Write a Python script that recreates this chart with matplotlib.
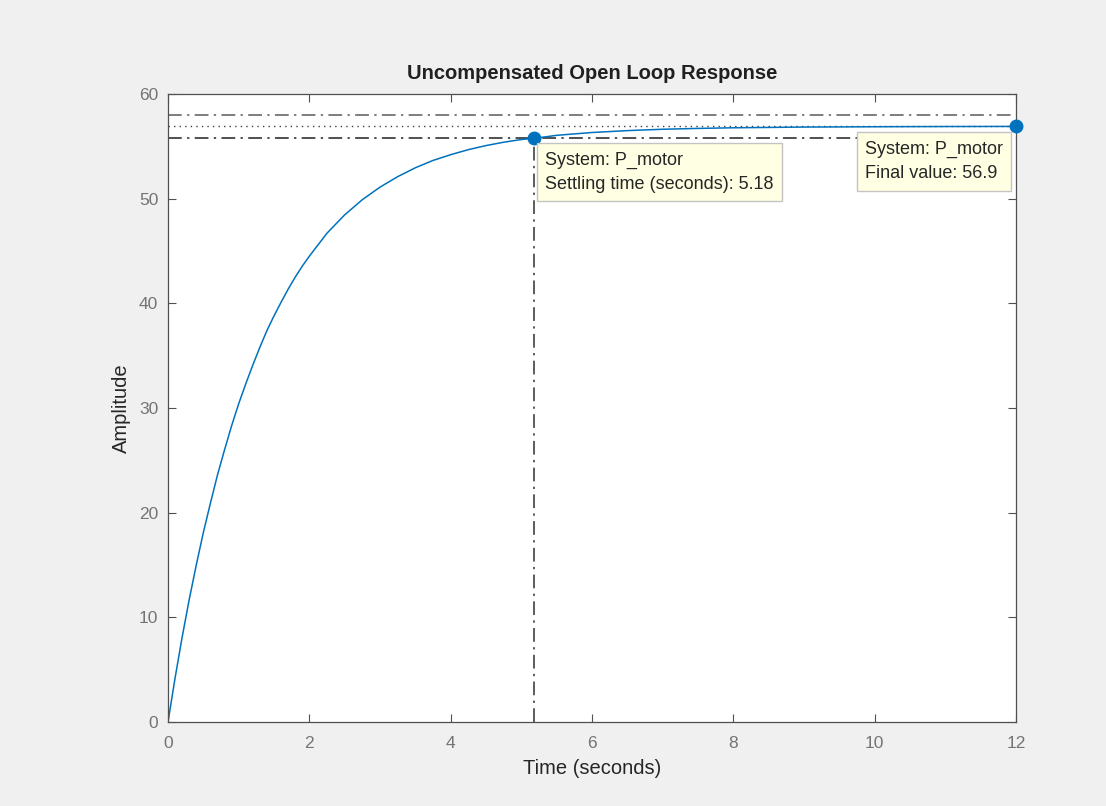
import matplotlib.pyplot as plt
import numpy as np

plt.rcParams['font.family'] = ['Liberation Sans', 'DejaVu Sans']

# step response of P_motor, amplitude read at each time (s)
time = [0, 0.1, 0.2, 0.3, 0.4, 0.5, 0.6, 0.7, 0.8, 0.9, 1.0, 1.1, 1.2, 1.3, 1.4,
        1.5, 1.6, 1.7, 1.8, 1.9, 2.0, 2.25, 2.5, 2.75, 3.0, 3.25, 3.5, 3.75, 4.0,
        4.25, 4.5, 4.75, 5.0, 5.18, 5.5, 6, 6.5, 7, 7.5, 8, 9, 10, 11, 12]
amplitude = [0, 4.2, 8.1, 11.7, 15.0, 18.1, 20.9, 23.6, 26.0, 28.3, 30.4, 32.3,
             34.1, 35.8, 37.4, 38.8, 40.1, 41.35, 42.5, 43.55, 44.5, 46.7, 48.45,
             49.9, 51.1, 52.1, 52.95, 53.65, 54.2, 54.68, 55.07, 55.39, 55.65,
             55.76, 56.05, 56.32, 56.5, 56.63, 56.71, 56.77, 56.84, 56.87, 56.89, 56.9]

final_value = 56.9
settling_time = 5.18
settle_band = [final_value * 0.98, final_value * 1.02]

x_ticks = [0, 2, 4, 6, 8, 10, 12]
y_ticks = [0, 10, 20, 30, 40, 50, 60]

fig = plt.figure(figsize=(11.06, 8.06), dpi=100, facecolor='#f0f0f0')
ax = fig.add_axes([0.1519, 0.1042, 0.7667, 0.7792])

# settling band and final value guides
dashdot = (0, (9, 3.5, 1.5, 3.5))
ax.axhline(settle_band[1], color='#5a5a5a', lw=1.1, ls=dashdot)
ax.axhline(final_value, color='#404040', lw=1.0, ls=(0, (1, 3)))
ax.axhline(settle_band[0], color='#202020', lw=1.1, ls=dashdot)
ax.plot([settling_time, settling_time], [0, settle_band[0]], color='#303030',
        lw=1.1, ls=dashdot)

ax.plot(time, amplitude, color='#0072bd', lw=1.1)
ax.plot([settling_time], [settle_band[0]], 'o', color='#0072bd', ms=9, clip_on=False, zorder=5)
ax.plot([time[-1]], [final_value], 'o', color='#0072bd', ms=9, clip_on=False, zorder=5)

tip_box = dict(boxstyle='square,pad=0.45', fc='#ffffe3', ec='#c4c4c4', lw=1)
ax.annotate('System: P_motor\nSettling time (seconds): %.2f' % settling_time,
            xy=(settling_time, settle_band[0]), xytext=(11, -13),
            textcoords='offset pixels', ha='left', va='top', fontsize=13,
            color='#262626', linespacing=1.6, bbox=tip_box, zorder=6)
ax.annotate('System: P_motor\nFinal value: %.1f' % final_value,
            xy=(time[-1], final_value), xytext=(-13, -14),
            textcoords='offset pixels', ha='right', va='top', multialignment='left',
            fontsize=13, color='#262626', linespacing=1.6, bbox=tip_box, zorder=6)

ax.set_xlim(0, 12)
ax.set_ylim(0, 60)
ax.set_xticks(x_ticks)
ax.set_yticks(y_ticks)
for s in ax.spines.values():
    s.set_color('#505050')
    s.set_linewidth(0.9)
ax.tick_params(direction='in', length=6, width=0.8, color='#505050',
               labelcolor='#747474', labelsize=12.5, top=True, right=True)
ax.tick_params(axis='x', pad=10)
ax.tick_params(axis='y', pad=7)

ax.set_title('Uncompensated Open Loop Response', fontsize=14.5, fontweight='bold',
             color='#202020', pad=11)
ax.set_xlabel('Time (seconds)', fontsize=14.5, color='#262626', labelpad=6)
ax.set_ylabel('Amplitude', fontsize=14.5, color='#262626', labelpad=6)

plt.savefig('out.png', dpi=100, facecolor=fig.get_facecolor())
